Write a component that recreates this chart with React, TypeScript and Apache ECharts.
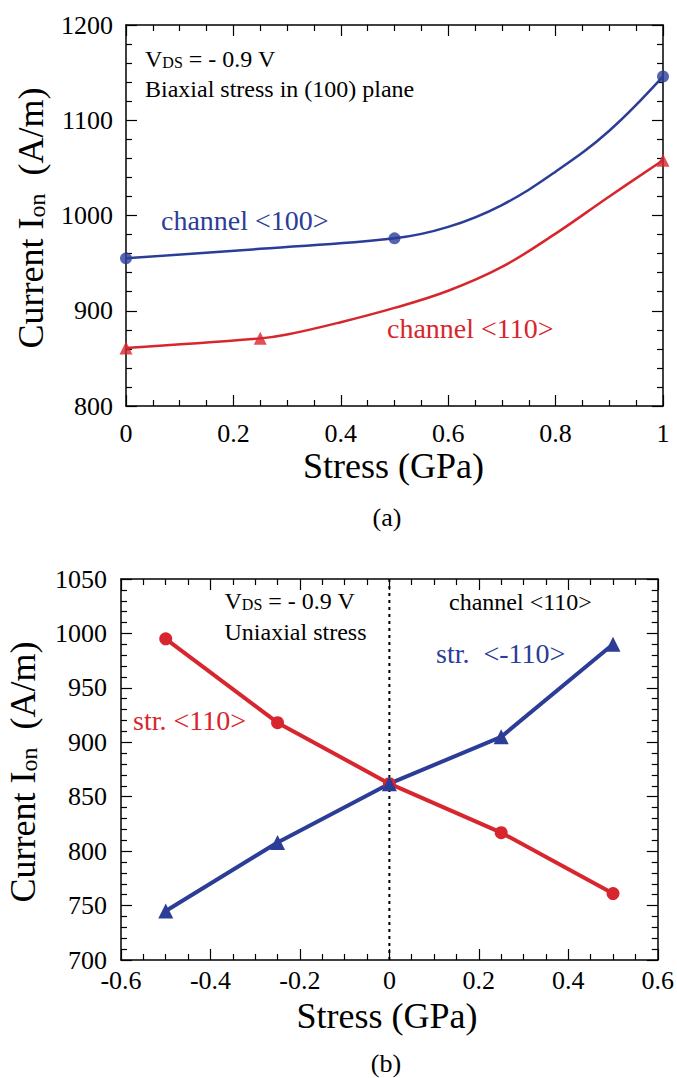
import { useEffect, useRef } from 'react';
import * as echarts from 'echarts';

// ---------- data: chart (a) biaxial stress ----------
const aBlueMarkX = [0, 0.5, 1];
const aBlueMarkY = [955, 976, 1146];
const aRedMarkX = [0, 0.25, 1];
const aRedMarkY = [861, 871, 1058];
// fitted curves
const aBlueCurveX = [0, 0.25, 0.5, 0.6, 0.7, 0.8, 0.9, 1];
const aBlueCurveY = [955, 965, 976, 988, 1011, 1046, 1089, 1146];
const aRedCurveX = [0, 0.25, 0.3, 0.4, 0.5, 0.6, 0.7, 0.8, 0.9, 1];
const aRedCurveY = [861, 871, 875, 888, 903, 921, 946, 981, 1020, 1058];

// ---------- data: chart (b) uniaxial stress ----------
const bStress = [-0.5, -0.25, 0, 0.25, 0.5];
const bRedStr110 = [995, 918, 862, 817, 761];
const bBlueStrM110 = [745, 808, 862, 905, 990];
const bDivider = [[0, 700], [0, 1050]];

const FONT = "'Liberation Serif', serif";
const BLUE = '#2b3d97';
const RED = '#d7262d';

const zip = (xs: number[], ys: number[]) => xs.map((x, i) => [x, ys[i]]);
const plain = (v: number) => String(Math.round(v * 1000) / 1000);

function xAx(grid: number, min: number, max: number, interval: number, pos: string, showLabel: boolean, margin: number) {
  return {
    type: 'value', gridIndex: grid, min, max, interval, position: pos,
    axisLine: { show: true, onZero: false, lineStyle: { color: '#000', width: 1.5 } },
    axisTick: { show: true, inside: true, length: 11, lineStyle: { color: '#000', width: 1.2 } },
    minorTick: { show: true, splitNumber: 4, length: 6, lineStyle: { color: '#000', width: 1.2 } },
    splitLine: { show: false },
    minorSplitLine: { show: false },
    axisLabel: {
      show: showLabel, fontFamily: FONT, fontSize: 26, lineHeight: 20, color: '#000', margin,
      formatter: plain,
    },
  };
}
function yAx(grid: number, min: number, max: number, interval: number, pos: string, showLabel: boolean, margin: number) {
  return {
    type: 'value', gridIndex: grid, min, max, interval, position: pos,
    axisLine: { show: true, onZero: false, lineStyle: { color: '#000', width: 1.5 } },
    axisTick: { show: true, inside: true, length: 11, lineStyle: { color: '#000', width: 1.2 } },
    minorTick: { show: true, splitNumber: 5, length: 6, lineStyle: { color: '#000', width: 1.2 } },
    splitLine: { show: false },
    minorSplitLine: { show: false },
    axisLabel: {
      show: showLabel, fontFamily: FONT, fontSize: 26, color: '#000', margin,
      formatter: plain,
    },
  };
}

function txt(x: number, y: number, text: string, size: number, color = '#000', align = 'left', lineHeight?: number) {
  return {
    type: 'text', x, y, z: 100,
    style: {
      text, fontFamily: FONT, fontSize: size, fill: color, align, verticalAlign: 'middle',
      lineHeight: lineHeight ?? size,
    },
  };
}
function richTxt(x: number, y: number, text: string, rich: any, align = 'left', rotation = 0) {
  return {
    type: 'text', x, y, rotation, z: 100,
    style: { text, fontFamily: FONT, fill: '#000', align, verticalAlign: 'middle', rich },
  };
}

const vdsRich = {
  m: { fontFamily: FONT, fontSize: 24, lineHeight: 24, color: '#000' },
  s: { fontFamily: FONT, fontSize: 16, lineHeight: 9, verticalAlign: 'bottom', color: '#000' },
};
const titleRich = {
  m: { fontFamily: FONT, fontSize: 36, lineHeight: 36, color: '#000' },
  s: { fontFamily: FONT, fontSize: 24, lineHeight: 14, verticalAlign: 'bottom', color: '#000' },
};

export default function App() {
  const ref = useRef<HTMLDivElement>(null);
  useEffect(() => {
    document.body.style.margin = '0';
    const chart = echarts.init(ref.current!, null, { renderer: 'svg' });
    const option: any = {
      animation: false,
      backgroundColor: '#fff',
      textStyle: { fontFamily: FONT },
      grid: [
        { left: 126, top: 25, width: 537, height: 381 },
        { left: 121, top: 579, width: 538, height: 381 },
      ],
      xAxis: [
        xAx(0, 0, 1, 0.2, 'bottom', true, 17),
        xAx(0, 0, 1, 0.2, 'top', false, 8),
        xAx(1, -0.6, 0.6, 0.2, 'bottom', true, 10),
        xAx(1, -0.6, 0.6, 0.2, 'top', false, 8),
      ],
      yAxis: [
        yAx(0, 800, 1200, 100, 'left', true, 13),
        yAx(0, 800, 1200, 100, 'right', false, 8),
        yAx(1, 700, 1050, 50, 'left', true, 14),
        yAx(1, 700, 1050, 50, 'right', false, 8),
      ],
      series: [
        {
          type: 'line', xAxisIndex: 0, yAxisIndex: 0, data: zip(aBlueCurveX, aBlueCurveY),
          smooth: 0.4, symbol: 'none', clip: false, lineStyle: { color: BLUE, width: 2.5 },
        },
        {
          type: 'line', xAxisIndex: 0, yAxisIndex: 0, data: zip(aRedCurveX, aRedCurveY),
          smooth: 0.4, symbol: 'none', clip: false, lineStyle: { color: RED, width: 2.5 },
        },
        {
          type: 'scatter', xAxisIndex: 0, yAxisIndex: 0, data: zip(aBlueMarkX, aBlueMarkY),
          symbol: 'circle', symbolSize: 12, clip: false, itemStyle: { color: BLUE },
        },
        {
          type: 'scatter', xAxisIndex: 0, yAxisIndex: 0, data: zip(aRedMarkX, aRedMarkY),
          symbol: 'triangle', symbolSize: 13, clip: false, itemStyle: { color: RED },
        },
        {
          type: 'line', xAxisIndex: 2, yAxisIndex: 2, data: bDivider, symbol: 'none',
          lineStyle: { color: '#000', width: 2, type: [3, 4] },
        },
        {
          type: 'line', xAxisIndex: 2, yAxisIndex: 2, data: zip(bStress, bRedStr110),
          symbol: 'circle', symbolSize: 13, showAllSymbol: true, clip: false,
          lineStyle: { color: RED, width: 4 }, itemStyle: { color: RED },
        },
        {
          type: 'line', xAxisIndex: 2, yAxisIndex: 2, data: zip(bStress, bBlueStrM110),
          symbol: 'triangle', symbolSize: 15, showAllSymbol: true, clip: false,
          lineStyle: { color: BLUE, width: 4 }, itemStyle: { color: BLUE },
        },
      ],
      graphic: [
        // chart (a)
        richTxt(145, 58.6, '{m|V}{s|DS}{m| = - 0.9 V}', vdsRich),
        txt(145, 88.6, 'Biaxial stress in (100) plane', 24),
        txt(161, 220.5, 'channel <100>', 28, BLUE),
        txt(387, 328.5, 'channel <110>', 28, RED),
        richTxt(31, 218, '{m|Current I}{s|on}{m|  (A/m)}', titleRich, 'center', Math.PI / 2),
        txt(393.5, 466, 'Stress (GPa)', 36, '#000', 'center', 28),
        txt(387, 517, '(a)', 26, '#000', 'center'),
        // chart (b)
        richTxt(224.5, 600.5, '{m|V}{s|DS}{m| = - 0.9 V}', vdsRich),
        txt(224.5, 632, 'Uniaxial stress', 24),
        txt(449, 601.5, 'channel <110>', 24),
        txt(436, 653.5, 'str.  <-110>', 28, BLUE),
        txt(133, 720.5, 'str. <110>', 28, RED),
        richTxt(23, 772, '{m|Current I}{s|on}{m|  (A/m)}', titleRich, 'center', Math.PI / 2),
        txt(387, 1016, 'Stress (GPa)', 36, '#000', 'center', 28),
        txt(386, 1063, '(b)', 26, '#000', 'center'),
      ],
    };
    chart.setOption(option);
    return () => chart.dispose();
  }, []);
  return <div ref={ref} style={{ width: 677, height: 1078 }} />;
}
